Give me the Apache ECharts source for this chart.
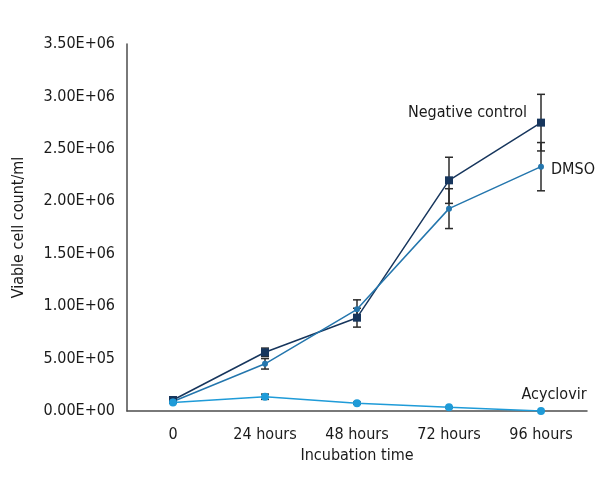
<!DOCTYPE html>
<html>
<head>
<meta charset="utf-8">
<script src="https://cdn.jsdelivr.net/npm/echarts@6/dist/echarts.min.js"></script>
<style>
  html, body { margin: 0; padding: 0; background: #fff; }
  #chart { width: 600px; height: 500px; }
</style>
</head>
<body>
<div id="chart"></div>
<script>
  const categories = ['0', '24 hours', '48 hours', '72 hours', '96 hours'];
  const negControl = [105000, 560000, 890000, 2200000, 2750000];
  const negControlErr = [10000, 40000, 90000, 220000, 270000];
  const dmso = [90000, 450000, 970000, 1930000, 2330000];
  const dmsoErr = [8000, 50000, 90000, 190000, 230000];
  const acyclovir = [80000, 136000, 75000, 35000, 0];
  const acyclovirErr = [5000, 25000, 10000, 5000, 0];

  const font = '"DejaVu Sans Condensed", sans-serif';
  const textColor = '#1a1a1a';

  function sci(v) {
    const parts = v.toExponential(2).split('e');
    const exp = parseInt(parts[1], 10);
    const sign = exp < 0 ? '-' : '+';
    const e = String(Math.abs(exp)).padStart(2, '0');
    return parts[0] + 'E' + sign + e;
  }

  function lineData(values, label) {
    return values.map((v, i) => i === values.length - 1 ? { value: v, label: label } : v);
  }

  function errorSeries(values, errs) {
    return {
      type: 'custom',
      z: 1,
      silent: true,
      data: values.map((v, i) => [i, v - errs[i], v + errs[i]]),
      renderItem: function (params, api) {
        const lo = api.coord([api.value(0), api.value(1)]);
        const hi = api.coord([api.value(0), api.value(2)]);
        const w = 4;
        const style = { stroke: '#2b2b2b', lineWidth: 1.5 };
        return {
          type: 'group',
          children: [
            { type: 'line', shape: { x1: lo[0], y1: lo[1], x2: hi[0], y2: hi[1] }, style: style },
            { type: 'line', shape: { x1: lo[0] - w, y1: lo[1], x2: lo[0] + w, y2: lo[1] }, style: style },
            { type: 'line', shape: { x1: hi[0] - w, y1: hi[1], x2: hi[0] + w, y2: hi[1] }, style: style }
          ]
        };
      }
    };
  }

  const myChart = echarts.init(document.getElementById('chart'));
  const option = {
    animation: false,
    textStyle: { fontFamily: font, color: textColor },
    grid: { left: 127, right: 13, top: 44, bottom: 89 },
    xAxis: {
      type: 'category',
      data: categories,
      name: 'Incubation time',
      nameLocation: 'middle',
      nameGap: 36,
      nameTextStyle: { fontFamily: font, fontSize: 16, color: textColor },
      axisLine: { lineStyle: { color: '#4d4d4d', width: 1.5 } },
      axisTick: { show: false },
      axisLabel: { fontFamily: font, fontSize: 16, color: textColor, margin: 16, interval: 0 }
    },
    yAxis: {
      type: 'value',
      min: 0,
      max: 3500000,
      interval: 500000,
      name: 'Viable cell count/ml',
      nameLocation: 'middle',
      nameGap: 100,
      nameTextStyle: { fontFamily: font, fontSize: 16, color: textColor },
      axisLine: { show: true, lineStyle: { color: '#4d4d4d', width: 1.5 } },
      axisTick: { show: false },
      splitLine: { show: false },
      axisLabel: { fontFamily: font, fontSize: 16, color: textColor, margin: 12, formatter: sci }
    },
    series: [
      errorSeries(negControl, negControlErr),
      errorSeries(dmso, dmsoErr),
      errorSeries(acyclovir, acyclovirErr),
      {
        name: 'Negative control',
        type: 'line',
        z: 3,
        data: lineData(negControl, {
          show: true, formatter: 'Negative control', position: 'left', distance: 10,
          offset: [0, -10], fontFamily: font, fontSize: 16, color: textColor
        }),
        symbol: 'rect',
        symbolSize: 8,
        lineStyle: { color: '#17365d', width: 1.5 },
        itemStyle: { color: '#17365d' }
      },
      {
        name: 'DMSO',
        type: 'line',
        z: 3,
        data: lineData(dmso, {
          show: true, formatter: 'DMSO', position: 'right', distance: 7,
          offset: [0, 3], fontFamily: font, fontSize: 16, color: textColor
        }),
        symbol: 'circle',
        symbolSize: 6,
        lineStyle: { color: '#2476ad', width: 1.5 },
        itemStyle: { color: '#2476ad' }
      },
      {
        name: 'Acyclovir',
        type: 'line',
        z: 3,
        data: lineData(acyclovir, {
          show: true, formatter: 'Acyclovir', position: 'top', distance: 5,
          offset: [13, 1], fontFamily: font, fontSize: 16, color: textColor
        }),
        symbol: 'circle',
        symbolSize: 8,
        lineStyle: { color: '#1f9bd8', width: 1.5 },
        itemStyle: { color: '#1f9bd8' }
      }
    ]
  };
  myChart.setOption(option);
</script>
</body>
</html>
